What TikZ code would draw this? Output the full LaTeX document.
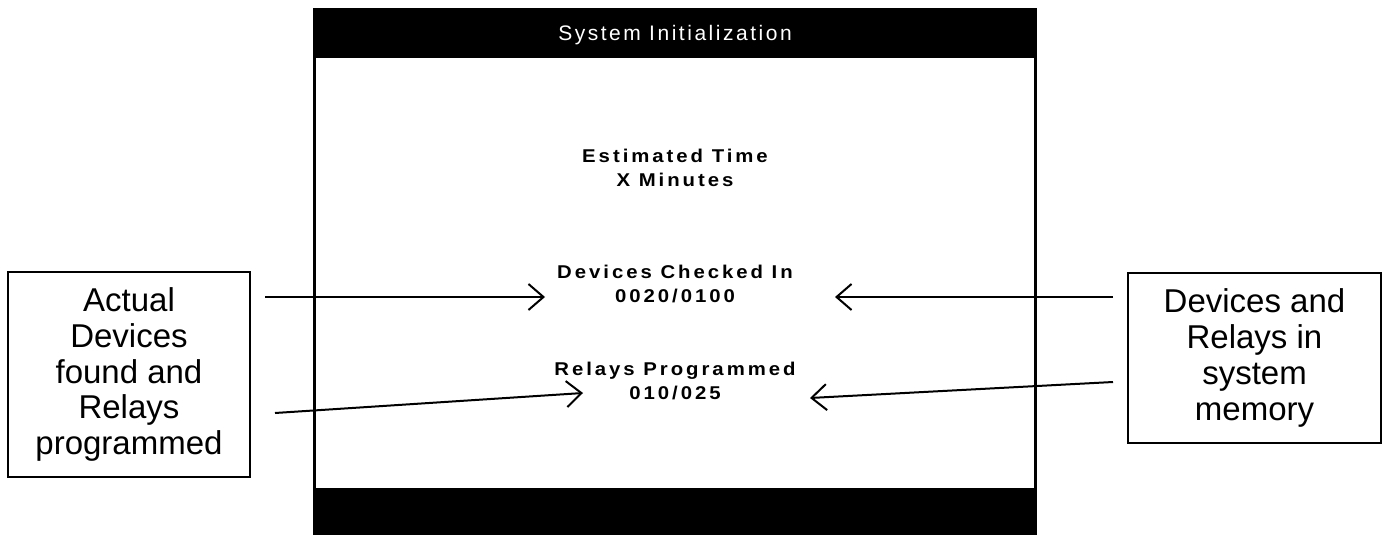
\documentclass[tikz,border=0pt]{standalone}
\usepackage{fontspec}
\setmainfont{Liberation Sans}
\newfontfamily\screenfont[FakeStretch=1.1, LetterSpace=16]{Liberation Sans}
\newfontfamily\titlefont[LetterSpace=12]{Liberation Sans}
\usetikzlibrary{arrows.meta}
\tikzset{
  x=1pt, y=-1pt,
  % base anchor of a two-line node sits on its last line
  screentext/.style={anchor=base, align=center, inner sep=0pt,
    font=\screenfont\bfseries\fontsize{18.5}{23.5}\selectfont},
  titletext/.style={anchor=base, inner sep=0pt, text=white,
    font=\titlefont\fontsize{21}{22}\selectfont},
  callout/.style={draw, line width=2.5pt, align=center, inner sep=0pt,
    font=\fontsize{33}{35.7}\selectfont},
  pointer/.style={line width=2pt, -{Straight Barb[length=15pt, width=26pt, line width=2pt]}}
}
\begin{document}
\begin{tikzpicture}
\useasboundingbox (0,0) rectangle (1385,535);

% display screen: black frame with title bar and empty footer bar
\node[fill=black, inner sep=0pt, minimum width=724, minimum height=527, anchor=north west] (screen) at (313,8) {};
\node[fill=white, inner sep=0pt, minimum width=718, minimum height=430, anchor=north west] (panel) at (316,58) {};
\node[titletext] (title) at (675,41) {System Initialization};

% screen contents
\node[screentext] (est) at (675,186) {Estimated Time\\X Minutes};
\node[screentext] (dev) at (675,302) {Devices Checked In\\0020/0100};
\node[screentext] (rel) at (675,399) {Relays Programmed\\010/025};

% callout boxes
\node[callout, minimum width=242, minimum height=205] (actual) at (129,374.5)
  {Actual\\Devices\\found and\\Relays\\programmed};
\node[callout, minimum width=253, minimum height=170] (memory) at (1254.5,358)
  {Devices and\\Relays in\\system\\memory};

% pointer end points
\coordinate (a1s) at (265,297);
\coordinate (a1e) at (545,297);
\coordinate (a2s) at (275,413);
\coordinate (a2e) at (583,393);
\coordinate (m1s) at (1113,297);
\coordinate (m1e) at (835,297);
\coordinate (m2s) at (1113,382);
\coordinate (m2e) at (810,398);

\draw[pointer] (a1s) -- (a1e);
\draw[pointer] (a2s) -- (a2e);
\draw[pointer] (m1s) -- (m1e);
\draw[pointer] (m2s) -- (m2e);
\end{tikzpicture}
\end{document}
